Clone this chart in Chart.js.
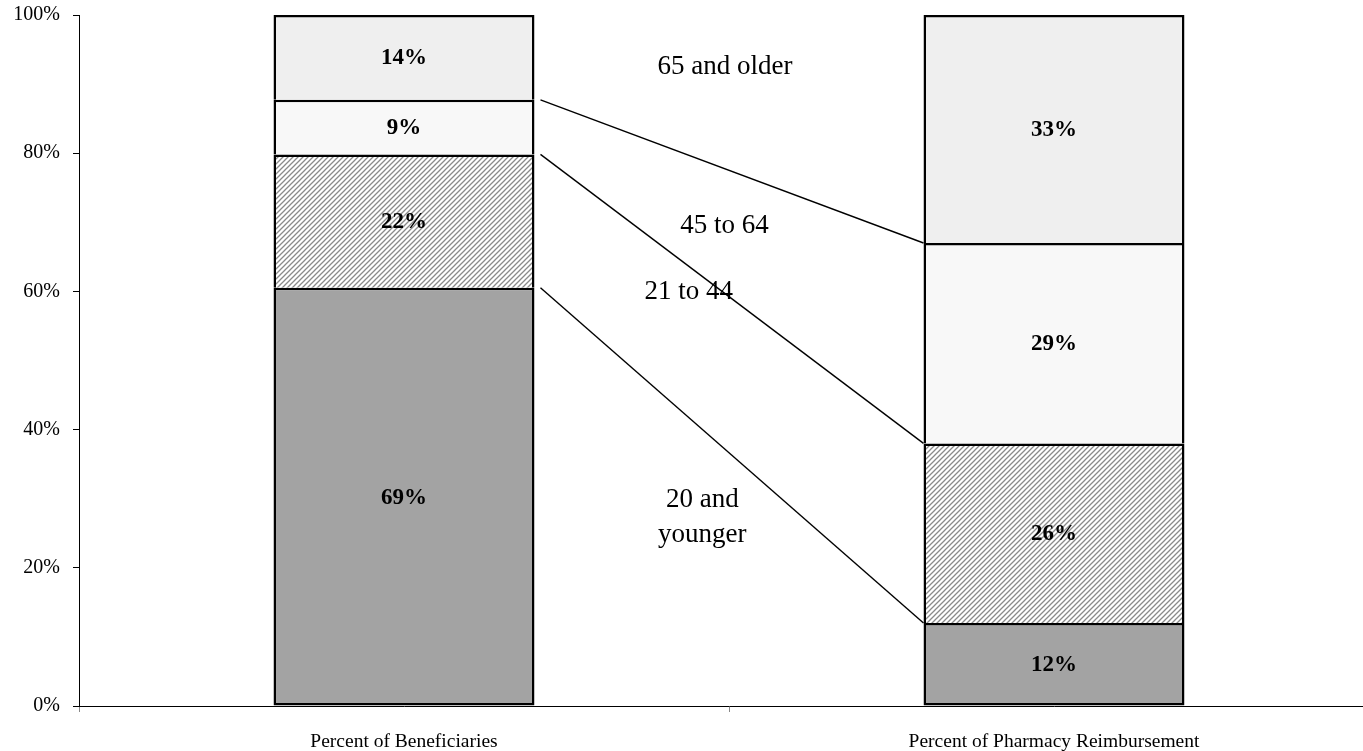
<!DOCTYPE html>
<html>
<head>
<meta charset="utf-8">
<script src="https://cdn.jsdelivr.net/npm/chart.js@4/dist/chart.umd.min.js"></script>
<style>
  html, body { margin: 0; padding: 0; background: #fff; overflow: hidden; }
  #wrap { position: relative; width: 1380px; height: 751px; }
</style>
</head>
<body>
<div id="wrap"><canvas id="chart"></canvas></div>
<script>
// Categories on the x axis
var categories = ['Percent of Beneficiaries', 'Percent of Pharmacy Reimbursement'];

// Age groups (bottom to top)
var groups = ['20 and younger', '21 to 44', '45 to 64', '65 and older'];

// Values printed on the bars (percent)
var age20Younger = [69, 12];
var age21to44 = [22, 26];
var age45to64 = [9, 29];
var age65Older = [14, 33];

// Y axis ticks
var yTicks = [0, 20, 40, 60, 80, 100];

var serif = "'Times New Roman', 'Liberation Serif', serif";

// Hatch pattern for the 21 to 44 group
function makeHatch() {
    var size = 5;
    var c = document.createElement('canvas');
    c.width = size;
    c.height = size;
    var g = c.getContext('2d');
    g.fillStyle = '#ffffff';
    g.fillRect(0, 0, size, size);
    g.strokeStyle = '#8a8a8a';
    g.lineWidth = 1.3;
    g.beginPath();
    g.moveTo(-1, size + 1);
    g.lineTo(size + 1, -1);
    g.moveTo(-1, 1);
    g.lineTo(1, -1);
    g.moveTo(size - 1, size + 1);
    g.lineTo(size + 1, size - 1);
    g.stroke();
    return g.createPattern(c, 'repeat');
}

// 100% stacked: each category is scaled to its own total
var rawSeries = [age20Younger, age21to44, age45to64, age65Older];
var totals = categories.map(function(c, i) {
    var s = 0;
    rawSeries.forEach(function(arr) { s += arr[i]; });
    return s;
});
function toPercent(arr) {
    return arr.map(function(v, i) { return v / totals[i] * 100; });
}

var fills = ['#a3a3a3', makeHatch(), '#f8f8f8', '#efefef'];

var datasets = rawSeries.map(function(arr, k) {
    return {
        label: groups[k],
        data: toPercent(arr),
        raw: arr,
        backgroundColor: fills[k],
        borderColor: '#000000',
        borderWidth: 2.5,
        borderSkipped: k === 0 ? false : 'bottom',
        barPercentage: 0.4015,
        categoryPercentage: 1.0
    };
});

// Lines joining the tops of the segments between the two bars
var seriesLines = {
    id: 'seriesLines',
    afterDatasetsDraw: function(chart) {
        var ctx = chart.ctx;
        ctx.save();
        ctx.strokeStyle = '#000000';
        ctx.lineWidth = 1.4;
        for (var k = 0; k < 3; k++) {
            var meta = chart.getDatasetMeta(k);
            var a = meta.data[0], b = meta.data[1];
            ctx.beginPath();
            ctx.moveTo(a.x + a.width / 2 + 6, a.y);
            ctx.lineTo(b.x - b.width / 2, b.y);
            ctx.stroke();
        }
        ctx.restore();
    }
};

// Bold value labels centred in each segment
var valueLabels = {
    id: 'valueLabels',
    afterDatasetsDraw: function(chart) {
        var ctx = chart.ctx;
        ctx.save();
        ctx.fillStyle = '#000000';
        ctx.font = 'bold 23px ' + serif;
        ctx.textAlign = 'center';
        ctx.textBaseline = 'middle';
        chart.data.datasets.forEach(function(ds, k) {
            chart.getDatasetMeta(k).data.forEach(function(el, i) {
                ctx.fillText(ds.raw[i] + '%', el.x, (el.y + el.base) / 2 + 1);
            });
        });
        ctx.restore();
    }
};

// Group names placed between the bars
var groupNotes = [
    { lines: ['65 and older'], at: 0.494, y: 92.5 },
    { lines: ['45 to 64'], at: 0.493, y: 69.5 },
    { lines: ['21 to 44'], at: 0.438, y: 59.9 },
    { lines: ['20 and', 'younger'], at: 0.459, y: 27.3 }
];
var groupText = {
    id: 'groupText',
    afterDraw: function(chart) {
        var ctx = chart.ctx;
        var xs = chart.scales.x, ys = chart.scales.y;
        var x0 = xs.getPixelForValue(0), x1 = xs.getPixelForValue(1);
        ctx.save();
        ctx.fillStyle = '#000000';
        ctx.font = '27px ' + serif;
        ctx.textAlign = 'center';
        ctx.textBaseline = 'middle';
        groupNotes.forEach(function(n) {
            var px = x0 + (x1 - x0) * n.at;
            var py = ys.getPixelForValue(n.y);
            var lh = 35;
            var start = py - (n.lines.length - 1) * lh / 2;
            n.lines.forEach(function(t, j) {
                ctx.fillText(t, px, start + j * lh);
            });
        });
        ctx.restore();
    }
};

var ctx = document.querySelector('#chart').getContext('2d');
var chart = new Chart(ctx, {
    type: 'bar',
    data: {
        labels: categories,
        datasets: datasets
    },
    options: {
        responsive: true,
        maintainAspectRatio: false,
        animation: false,
        layout: {
            padding: { top: 15, right: 1, bottom: 0, left: 0 }
        },
        plugins: {
            legend: { display: false },
            tooltip: { enabled: false }
        },
        scales: {
            x: {
                stacked: true,
                offset: true,
                afterFit: function(s) {
                    s.height = 45;
                    s.paddingLeft = 0;
                    s.paddingRight = 0;
                },
                border: { display: true, color: '#000000', width: 1 },
                grid: {
                    display: true,
                    offset: true,
                    drawOnChartArea: false,
                    drawTicks: true,
                    tickLength: 6,
                    color: '#888888'
                },
                ticks: {
                    color: '#000000',
                    padding: 18,
                    maxRotation: 0,
                    font: { family: serif, size: 19.5 }
                }
            },
            y: {
                stacked: true,
                min: 0,
                max: 100,
                afterFit: function(s) {
                    s.width = 79;
                    s.paddingTop = 0;
                    s.paddingBottom = 0;
                },
                afterBuildTicks: function(s) {
                    s.ticks = yTicks.map(function(v) { return { value: v }; });
                },
                border: { display: true, color: '#000000', width: 1 },
                grid: {
                    display: true,
                    drawOnChartArea: false,
                    drawTicks: true,
                    tickLength: 6,
                    color: '#000000'
                },
                ticks: {
                    color: '#000000',
                    padding: 13,
                    font: { family: serif, size: 20 },
                    callback: function(v) { return v + '%'; }
                }
            }
        }
    },
    plugins: [seriesLines, valueLabels, groupText]
});
</script>
</body>
</html>
